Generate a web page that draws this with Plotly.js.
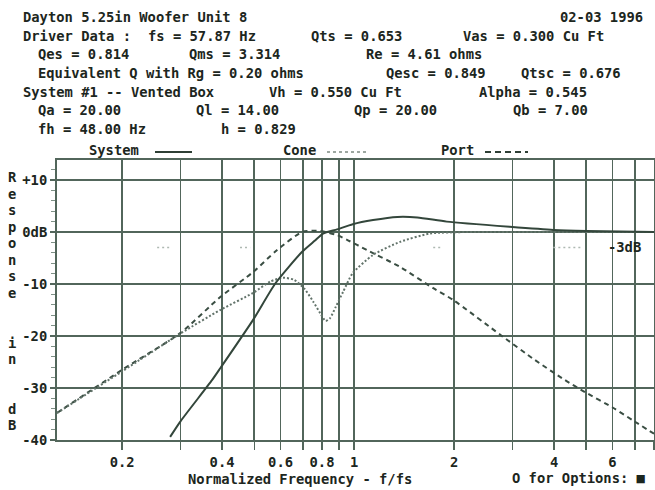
<!DOCTYPE html>
<html>
<head>
<meta charset="utf-8">
<script src="https://cdn.plot.ly/plotly-3.0.1.min.js"></script>
<style>html,body{margin:0;padding:0;background:#fff;}#chart{width:655px;height:490px;}</style>
</head>
<body>
<div id="chart"></div>
<script>
// ---- data (normalized frequency f/fs, response dB) ----
const systemFreq = [0.279, 0.299, 0.373, 0.395, 0.496, 0.58, 0.697, 0.76, 0.806, 0.888, 0.99, 1.14, 1.35, 1.55, 1.9, 2.94, 3.98, 5.02, 8];
const systemDb   = [-39.4, -36.5, -28.5, -26.2, -16.9, -9.8, -3.8, -1.7, -0.3, 0.5, 1.5, 2.3, 2.9, 2.8, 2.0, 1.0, 0.4, 0.2, 0];

const coneFreq = [0.1273, 0.2, 0.3, 0.395, 0.496, 0.56, 0.61, 0.66, 0.71, 0.753, 0.79, 0.82, 0.845, 0.88, 0.926, 0.99, 1.14, 1.374, 1.69, 2.2, 4.1, 8];
const coneDb   = [-34.8, -26.8, -19.5, -15.0, -11.7, -9.5, -8.8, -9.2, -11.0, -13.4, -15.6, -17.1, -16.6, -14.4, -11.5, -7.9, -4.4, -1.9, -0.3, 0, 0, 0];

const portFreq = [0.1273, 0.2, 0.3, 0.395, 0.496, 0.585, 0.697, 0.79, 0.888, 0.952, 1.094, 1.374, 1.73, 1.99, 2.76, 3.5, 4.32, 4.96, 6.02, 6.9, 8];
const portDb   = [-34.8, -26.5, -19.4, -12.5, -7.7, -3.5, 0, 0.2, -0.6, -1.5, -3.5, -6.7, -10.8, -13.1, -19.8, -24.6, -28.5, -30.8, -33.8, -36.2, -38.8];

const minus3Freq = [0.255, 0.282, null, 0.453, 0.486, null, 1.73, 1.82, null, 3.98, 4.9];
const minus3Db   = [-3, -3, null, -3, -3, null, -3, -3, null, -3, -3];

const xTickVals = [0.2, 0.3, 0.4, 0.5, 0.6, 0.7, 0.8, 0.9, 1, 2, 3, 4, 5, 6, 7, 8];
const xTickText = ['0.2', '', '0.4', '', '0.6', '', '0.8', '', '1', '2', '', '4', '', '6', '', '8'];
const yTickVals = [-40, -30, -20, -10, 0, 10];
const yTickText = ['-40', '-30', '-20', '-10', '0dB', '+10'];

const headerLines = [
  ['Dayton 5.25in Woofer Unit 8', 22, 17],
  ['Driver Data :', 22, 35.5], ['fs = 57.87 Hz', 147, 35.5], ['Qts = 0.653', 310, 35.5], ['Vas = 0.300 Cu Ft', 462, 35.5],
  ['Qes = 0.814', 37, 54], ['Qms = 3.314', 188, 54], ['Re = 4.61 ohms', 365, 54],
  ['Equivalent Q with Rg = 0.20 ohms', 37, 73], ['Qesc = 0.849', 385, 73], ['Qtsc = 0.676', 520, 73],
  ['System #1 -- Vented Box', 22, 92], ['Vh = 0.550 Cu Ft', 268, 92], ['Alpha = 0.545', 478, 92],
  ['Qa = 20.00', 37, 110.5], ['Ql = 14.00', 195, 110.5], ['Qp = 20.00', 353, 110.5], ['Qb = 7.00', 512, 110.5],
  ['fh = 48.00 Hz', 37, 129], ['h = 0.829', 220, 129],
  ['System', 88, 150], ['Cone', 282, 150], ['Port', 440, 150],
  ['-3dB', 607, 247],
  ['Normalized Frequency - f/fs', 187, 479], ['O for Options: \u25A0', 511, 478]
];
const dateText = '02-03 1996';
const yTitle = 'Response  in  dB';

// ---- layout helpers (pixel -> paper) ----
const L = 57, R = 654, T = 160, B = 440;
const px = x => (x - L) / (R - L);
const py = y => (B - y) / (B - T);

const FONT = 'DejaVu Sans Mono';
const FS = 13.8;
const INK = '#1c2620';
const GRID = '#52665b';

const annotations = headerLines.map(([t, x, y]) => ({
  text: t, xref: 'paper', yref: 'paper', x: px(x), y: py(y),
  xanchor: 'left', yanchor: 'middle', showarrow: false, borderpad: 0,
  font: {family: FONT, size: FS, color: INK, weight: 'bold'}
}));
annotations.push({
  text: dateText, xref: 'paper', yref: 'paper', x: px(644), y: py(17),
  xanchor: 'right', yanchor: 'middle', showarrow: false, borderpad: 0,
  font: {family: FONT, size: FS, color: INK, weight: 'bold'}
});
yTitle.split('').forEach((ch, i) => {
  if (ch === ' ') return;
  annotations.push({
    text: ch, xref: 'paper', yref: 'paper', x: px(12), y: py(177 + i * 16.55),
    xanchor: 'center', yanchor: 'middle', showarrow: false, borderpad: 0,
    font: {family: FONT, size: FS, color: INK, weight: 'bold'}
  });
});

const shapes = [
  {type: 'line', xref: 'paper', yref: 'paper', x0: px(155), x1: px(192), y0: py(152), y1: py(152), line: {color: '#2e3f35', width: 2}},
  {type: 'line', xref: 'paper', yref: 'paper', x0: px(327), x1: px(367), y0: py(152), y1: py(152), line: {color: '#7d8b83', width: 1.5, dash: 'dot'}},
  {type: 'line', xref: 'paper', yref: 'paper', x0: px(485), x1: px(528), y0: py(152), y1: py(152), line: {color: '#2e3f35', width: 2, dash: '6px,4px'}}
];

const traces = [
  {x: minus3Freq, y: minus3Db, mode: 'lines', line: {color: '#aeb9b2', width: 1.5, dash: '2px,3px'}, connectgaps: false, hoverinfo: 'skip'},
  {x: portFreq, y: portDb, mode: 'lines', name: 'Port', line: {color: '#3a4e43', width: 2, dash: '5px,4px', shape: 'spline', smoothing: 0.6}},
  {x: coneFreq, y: coneDb, mode: 'lines', name: 'Cone', line: {color: '#62736a', width: 2, dash: '2px,2px', shape: 'spline', smoothing: 0.6}},
  {x: systemFreq, y: systemDb, mode: 'lines', name: 'System', line: {color: '#33463b', width: 2, shape: 'spline', smoothing: 0.6}}
];

const layout = {
  width: 655, height: 490,
  margin: {l: L, r: 655 - R, t: T, b: 490 - B, pad: 0},
  paper_bgcolor: '#ffffff', plot_bgcolor: '#ffffff',
  showlegend: false,
  xaxis: {
    type: 'log', range: [Math.log10(0.1273), Math.log10(8)],
    tickvals: xTickVals, ticktext: xTickText,
    showgrid: true, gridcolor: GRID, gridwidth: 1.6,
    showline: true, linecolor: GRID, linewidth: 2, mirror: true,
    ticks: 'outside', ticklen: 8, tickcolor: GRID, tickwidth: 1.5,
    tickfont: {family: FONT, size: FS, color: INK, weight: 'bold'},
    zeroline: false, fixedrange: true
  },
  yaxis: {
    range: [-40, 13.85],
    tickvals: yTickVals, ticktext: yTickText,
    showgrid: true, gridcolor: GRID, gridwidth: 2,
    showline: true, linecolor: GRID, linewidth: 2, mirror: true,
    ticks: 'outside', ticklen: 5, tickcolor: GRID, tickwidth: 1.5,
    minor: {dtick: 2, ticks: 'outside', ticklen: 4, tickcolor: '#7f9187', tickwidth: 1, showgrid: false},
    tickfont: {family: FONT, size: FS, color: INK, weight: 'bold'},
    zeroline: false, fixedrange: true
  },
  annotations: annotations,
  shapes: shapes
};

Plotly.newPlot('chart', traces, layout, {staticPlot: true, displayModeBar: false});
</script>
</body>
</html>
